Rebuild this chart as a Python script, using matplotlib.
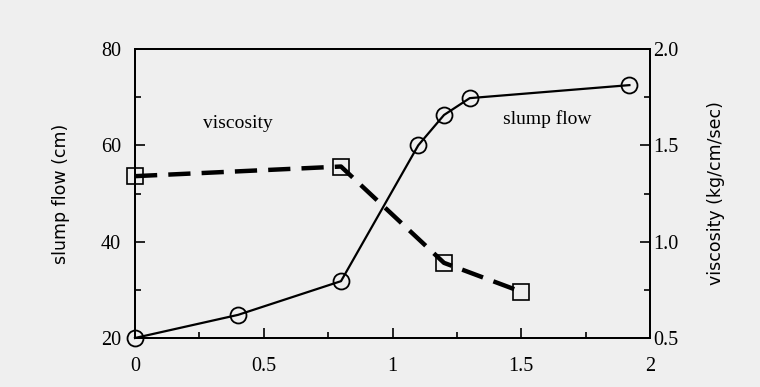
import matplotlib.pyplot as plt

# slump flow (left axis) and viscosity (right axis) against dosage
flow_x = [0, 0.4, 0.8, 1.1, 1.2, 1.3, 1.92]
flow_y = [20, 24.8, 31.8, 60, 66.3, 69.8, 72.5]

visc_x = [0, 0.8, 1.2, 1.5]
visc_y = [1.34, 1.39, 0.89, 0.74]

x_ticks = [0, 0.5, 1, 1.5, 2]
x_labels = ["0", "0.5", "1", "1.5", "2"]
flow_ticks = [20, 40, 60, 80]
visc_ticks = [0.5, 1.0, 1.5, 2.0]
visc_labels = ["0.5", "1.0", "1.5", "2.0"]

plt.rcParams['font.family'] = ['Liberation Serif', 'DejaVu Serif']

fig = plt.figure(figsize=(7.6, 3.87), dpi=100, facecolor="#efefef")
ax = fig.add_axes([135 / 760, 1 - 338 / 387, 515 / 760, 289 / 387])
ax.set_facecolor("#efefef")

ax.plot(flow_x, flow_y, color="black", lw=1.6, marker="o", ms=11.5,
        mfc="none", mec="black", mew=1.3, clip_on=False, zorder=3)
ax.set_xlim(0, 2)
ax.set_ylim(20, 80)
ax.set_xticks(x_ticks)
ax.set_xticklabels(x_labels)
ax.set_xticks([0.25, 0.75, 1.25, 1.75], minor=True)
ax.set_yticks(flow_ticks)
ax.set_yticks([30, 50, 70], minor=True)
ax.set_ylabel("slump flow (cm)", fontsize=12.5, family=["DejaVu Sans"], labelpad=22)

ax2 = ax.twinx()
ax2.plot(visc_x, visc_y, color="black", lw=3.2, ls=(0, (5, 2.5)), marker="s",
         ms=11, mfc="none", mec="black", mew=1.2, clip_on=False, zorder=3)
ax2.set_ylim(0.5, 2.0)
ax2.set_yticks(visc_ticks)
ax2.set_yticklabels(visc_labels)
ax2.set_yticks([0.75, 1.25, 1.75], minor=True)
ax2.set_ylabel("viscosity (kg/cm/sec)", fontsize=12.5, family=["DejaVu Sans"], labelpad=21)

for a in (ax, ax2):
    a.tick_params(which="both", direction="in", labelsize=14.5, width=1.2)
    a.tick_params(which="major", length=7)
    a.tick_params(which="minor", length=4)
    for s in a.spines.values():
        s.set_linewidth(1.4)
ax.tick_params(axis="x", pad=14)
ax.tick_params(axis="y", pad=10)
ax2.tick_params(axis="y", pad=2)

ax.text(0.4, 64.5, "viscosity", fontsize=14, ha="center", va="center")
ax.text(1.6, 65.5, "slump flow", fontsize=14, ha="center", va="center")

fig.savefig("out.png", dpi=100, facecolor=fig.get_facecolor())
